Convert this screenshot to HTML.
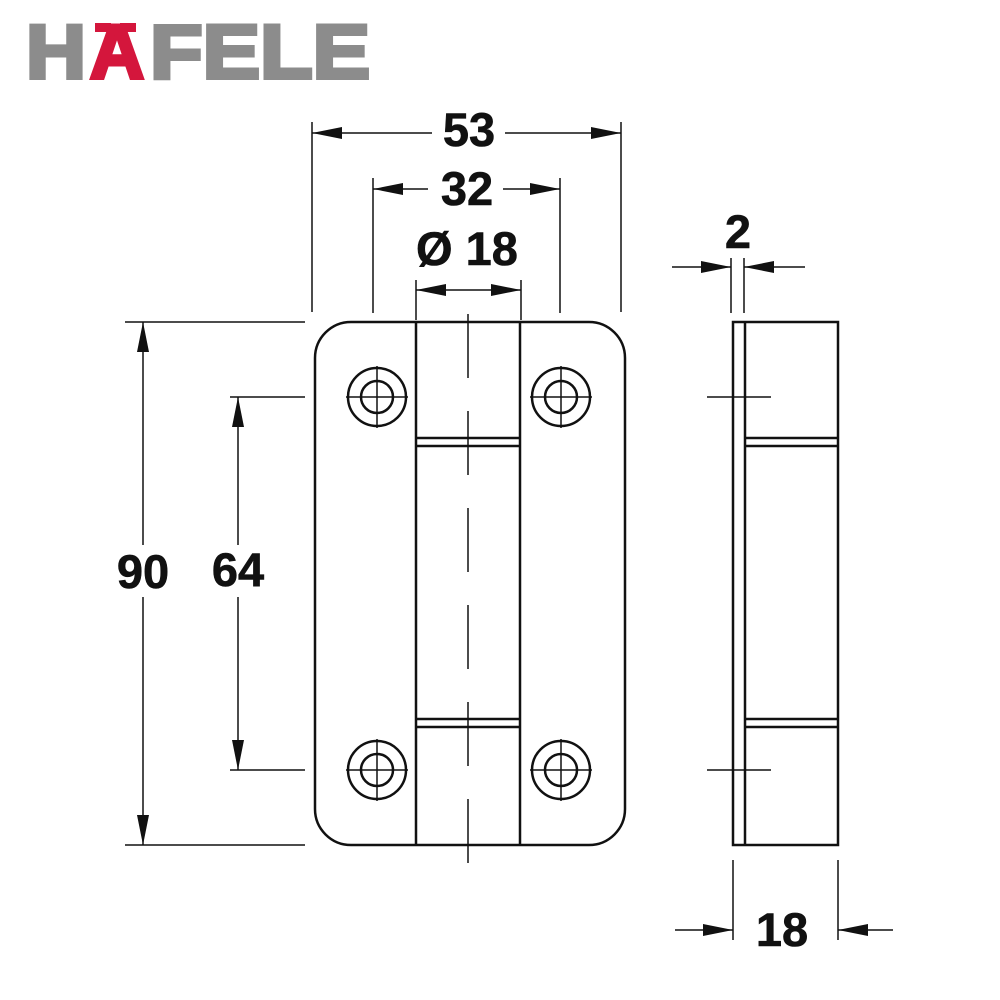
<!DOCTYPE html>
<html><head><meta charset="utf-8"><style>html,body{margin:0;padding:0;background:#fff}svg{display:block}</style></head>
<body>
<svg width="1000" height="1000" viewBox="0 0 1000 1000" xmlns="http://www.w3.org/2000/svg">
<defs>
<marker id="a" viewBox="0 0 30 12" refX="30" refY="6" markerWidth="30" markerHeight="12" markerUnits="userSpaceOnUse" orient="auto"><path d="M0,0 L30,6 L0,12 Z" fill="#111"/></marker>
</defs>
<!-- logo -->
<g font-family="Liberation Sans, sans-serif" font-weight="bold" font-size="76" stroke-width="4" stroke-linejoin="miter">
<text x="26" y="78" fill="#8c8c8c" stroke="#8c8c8c" textLength="60" lengthAdjust="spacingAndGlyphs">H</text>
<text x="90" y="78" fill="#d4163c" stroke="#d4163c" textLength="54" lengthAdjust="spacingAndGlyphs">A</text>
<rect x="95" y="23" width="16" height="9" fill="#d4163c"/><rect x="120" y="23" width="16" height="9" fill="#d4163c"/>
<text x="150" y="78" fill="#8c8c8c" stroke="#8c8c8c" textLength="220" lengthAdjust="spacingAndGlyphs">FELE</text>
</g>
<g stroke="#111" fill="none" stroke-width="2.5">
<rect x="315" y="322" width="310" height="523" rx="36"/>
<line x1="416" y1="322" x2="416" y2="845"/>
<line x1="520" y1="322" x2="520" y2="845"/>
<line x1="416" y1="438" x2="520" y2="438"/><line x1="416" y1="446" x2="520" y2="446"/>
<line x1="416" y1="719" x2="520" y2="719"/><line x1="416" y1="727" x2="520" y2="727"/>
<circle cx="377" cy="397" r="29"/><circle cx="377" cy="397" r="16"/>
<circle cx="561" cy="397" r="29"/><circle cx="561" cy="397" r="16"/>
<circle cx="377" cy="770" r="29"/><circle cx="377" cy="770" r="16"/>
<circle cx="561" cy="770" r="29"/><circle cx="561" cy="770" r="16"/>
<rect x="733" y="322" width="105" height="523"/>
<line x1="745" y1="322" x2="745" y2="845"/>
<line x1="745" y1="438" x2="838" y2="438"/><line x1="745" y1="446" x2="838" y2="446"/>
<line x1="745" y1="719" x2="838" y2="719"/><line x1="745" y1="727" x2="838" y2="727"/>
</g>
<g stroke="#111" fill="none" stroke-width="1.5">
<path d="M346,397h62M377,366v62M530,397h62M561,366v62M346,770h62M377,739v62M530,770h62M561,739v62"/>
<path d="M707,397h64M707,770h64"/>
<path d="M468,314V863" stroke-dasharray="64 33"/>
<path d="M312,122v190M621,122v190M373,178v135M560,178v135M416,280v40M521,280v40"/>
<path d="M125,322h180M125,845h180M230,397h75M230,770h75"/>
<path d="M731,258v55M744,258v55M733,860v80M838,860v80"/>
<line x1="432" y1="133" x2="312" y2="133" marker-end="url(#a)"/>
<line x1="505" y1="133" x2="621" y2="133" marker-end="url(#a)"/>
<line x1="428" y1="189" x2="373" y2="189" marker-end="url(#a)"/>
<line x1="503" y1="189" x2="560" y2="189" marker-end="url(#a)"/>
<line x1="468" y1="290" x2="416" y2="290" marker-end="url(#a)"/>
<line x1="468" y1="290" x2="521" y2="290" marker-end="url(#a)"/>
<line x1="143" y1="545" x2="143" y2="322" marker-end="url(#a)"/>
<line x1="143" y1="597" x2="143" y2="845" marker-end="url(#a)"/>
<line x1="238" y1="545" x2="238" y2="397" marker-end="url(#a)"/>
<line x1="238" y1="597" x2="238" y2="770" marker-end="url(#a)"/>
<line x1="672" y1="267" x2="731" y2="267" marker-end="url(#a)"/>
<line x1="805" y1="267" x2="744" y2="267" marker-end="url(#a)"/>
<line x1="675" y1="930" x2="733" y2="930" marker-end="url(#a)"/>
<line x1="893" y1="930" x2="838" y2="930" marker-end="url(#a)"/>
</g>
<g font-family="Liberation Sans, sans-serif" font-weight="bold" font-size="47" fill="#111" stroke="#111" stroke-width="0.6" text-anchor="middle">
<text x="469" y="146">53</text>
<text x="467" y="205">32</text>
<text x="467" y="265">Ø 18</text>
<text x="143" y="588">90</text>
<text x="238" y="586">64</text>
<text x="738" y="248">2</text>
<text x="782" y="946">18</text>
</g>
</svg>
</body></html>
